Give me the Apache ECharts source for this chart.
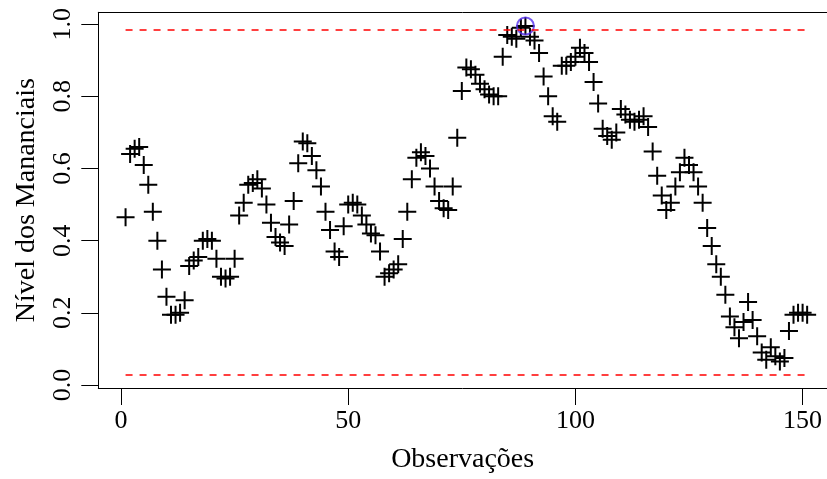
<!DOCTYPE html>
<html>
<head>
<meta charset="utf-8">
<script src="https://cdn.jsdelivr.net/npm/echarts@6/dist/echarts.min.js"></script>
<style>html,body{margin:0;padding:0;background:#fff}#c{width:827px;height:479px}</style>
</head>
<body>
<div id="c"></div>
<script>
// Observation index 1..151 and water level values
const observations = Array.from({length: 151}, (_, k) => k + 1);
const levels = [
  0.465, 0.64, 0.655, 0.66, 0.61, 0.555, 0.48, 0.40, 0.32, 0.245,
  0.195, 0.195, 0.20, 0.235, 0.33, 0.345, 0.355, 0.40, 0.405, 0.40,
  0.35, 0.30, 0.295, 0.30, 0.35, 0.47, 0.505, 0.555, 0.56, 0.57,
  0.545, 0.50, 0.45, 0.41, 0.395, 0.385, 0.445, 0.51, 0.615, 0.675,
  0.67, 0.635, 0.595, 0.55, 0.48, 0.43, 0.37, 0.355, 0.44, 0.50,
  0.505, 0.50, 0.47, 0.445, 0.42, 0.415, 0.37, 0.30, 0.31, 0.32,
  0.335, 0.405, 0.48, 0.57, 0.63, 0.645, 0.635, 0.60, 0.55, 0.51,
  0.49, 0.485, 0.55, 0.685, 0.815, 0.88, 0.875, 0.86, 0.835, 0.82,
  0.805, 0.80, 0.80, 0.91, 0.97, 0.965, 0.96, 0.99, 0.995, 0.965,
  0.955, 0.92, 0.855, 0.80, 0.745, 0.73, 0.885, 0.885, 0.895, 0.91,
  0.935, 0.92, 0.895, 0.84, 0.78, 0.71, 0.69, 0.68, 0.70, 0.765,
  0.75, 0.735, 0.73, 0.735, 0.745, 0.715, 0.647, 0.58, 0.525, 0.485,
  0.505, 0.55, 0.59, 0.63, 0.61, 0.59, 0.55, 0.505, 0.435, 0.385,
  0.335, 0.30, 0.25, 0.19, 0.16, 0.13, 0.175, 0.23, 0.18, 0.135,
  0.09, 0.07, 0.105, 0.08, 0.065, 0.075, 0.15, 0.195, 0.20, 0.20,
  0.195
];
const lowerLimit = 0.028;
const upperLimit = 0.984;
const xTicks = [0, 50, 100, 150];
const yTicks = [0, 0.2, 0.4, 0.6, 0.8, 1.0];
const xTitle = 'Observações';
const yTitle = 'Nível dos Mananciais';

const pts = observations.map((x, k) => [x, levels[k]]);
let maxK = 0;
levels.forEach((v, k) => { if (v > levels[maxK]) maxK = k; });
const maxPoint = [[observations[maxK], levels[maxK]]];
const first = observations[0], last = observations[observations.length - 1];

const font = 'Liberation Serif, Times New Roman, serif';
const plus = 'path://M8,0 H10 V8 H18 V10 H10 V18 H8 V10 H0 V8 H8 Z';
const XMIN = -5, XMAX = 155.37;

const chart = echarts.init(document.getElementById('c'), null, {renderer: 'canvas'});
chart.setOption({
  animation: false,
  backgroundColor: '#fff',
  grid: {left: 98.3, top: 12.3, right: 0, height: 380, show: false},
  xAxis: [{
    type: 'value', min: XMIN, max: XMAX,
    name: xTitle, nameLocation: 'middle', nameGap: 58,
    nameTextStyle: {fontFamily: font, fontSize: 28, color: '#000'},
    axisLine: {show: true, onZero: false, lineStyle: {color: '#000', width: 1}},
    axisTick: {show: true, length: 17, customValues: xTicks, lineStyle: {color: '#000', width: 1}},
    axisLabel: {customValues: xTicks, margin: 20, fontFamily: font, fontSize: 26, color: '#000'},
    splitLine: {show: false}
  }, {
    type: 'value', min: XMIN, max: XMAX, position: 'top',
    axisLine: {show: true, onZero: false, lineStyle: {color: '#000', width: 1}},
    axisTick: {show: false}, axisLabel: {show: false}, splitLine: {show: false}
  }],
  yAxis: {
    type: 'value', min: -0.0082, max: 1.033,
    name: yTitle, nameLocation: 'middle', nameGap: 58, nameRotate: 90,
    nameTextStyle: {fontFamily: font, fontSize: 28, color: '#000'},
    axisLine: {show: true, onZero: false, lineStyle: {color: '#000', width: 1}},
    axisTick: {show: true, length: 17, customValues: yTicks, lineStyle: {color: '#000', width: 1}},
    axisLabel: {customValues: yTicks, rotate: 90, margin: 22, fontFamily: font, fontSize: 26, color: '#000',
      formatter: v => v.toFixed(1)},
    splitLine: {show: false}
  },
  series: [
    {type: 'line', data: [[first, lowerLimit], [last, lowerLimit]], symbol: 'none', silent: true,
      lineStyle: {color: '#ff0000', width: 1.5, type: [7, 7]}},
    {type: 'line', data: [[first, upperLimit], [last, upperLimit]], symbol: 'none', silent: true,
      lineStyle: {color: '#ff0000', width: 1.5, type: [7, 7]}},
    {type: 'scatter', data: pts, symbol: plus, symbolSize: 18, itemStyle: {color: '#000', opacity: 1}},
    {type: 'scatter', data: maxPoint, symbol: 'circle', symbolSize: 17,
      itemStyle: {color: 'rgba(0,0,0,0)', borderColor: '#5530ee', borderWidth: 2}}
  ]
});
</script>
</body>
</html>
